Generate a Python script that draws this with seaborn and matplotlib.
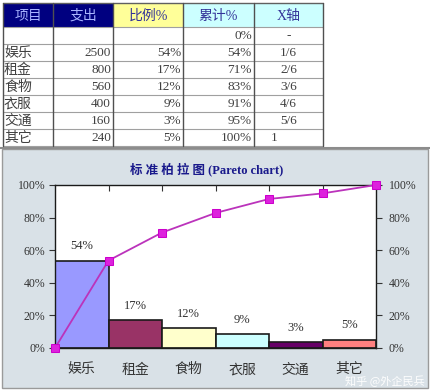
import numpy as np
import pandas as pd
import matplotlib
matplotlib.use("Agg")
import matplotlib.pyplot as plt
from matplotlib.patches import Rectangle
import seaborn as sns

# ---------------- data ----------------
categories = ["娱乐", "租金", "食物", "衣服", "交通", "其它"]
spending = [2500, 800, 560, 400, 160, 240]
x_axis_labels = ["1/6", "2/6", "3/6", "4/6", "5/6", "1"]
header = ["项目", "支出", "比例%", "累计%", "X轴"]
y_ticks = [0, 20, 40, 60, 80, 100]
bar_colors = ["#9999FF", "#993366", "#FFFFCC", "#CCFFFF", "#660066", "#FF8080"]
title = "标 准 柏 拉 图 (Pareto chart)"
watermark = "知乎 @外企民兵"

total = sum(spending)
ratio = [s / total * 100 for s in spending]
cum = list(np.cumsum(ratio))
cum_line = [0.0] + cum
x_frac = [i / len(categories) for i in range(len(categories) + 1)]
ratio_labels = [f"{round(r)}%" for r in ratio]
cum_labels = [f"{round(c)}%" for c in cum]

# ---------------- style ----------------
sns.set_style("white")
plt.rcParams["font.family"] = ["Liberation Serif", "Noto Sans CJK SC", "DejaVu Sans"]

W, H = 430, 392
fig = plt.figure(figsize=(W / 100, H / 100), dpi=100)
fig.patch.set_facecolor("white")

# background canvas in pixel coordinates
bg = fig.add_axes([0, 0, 1, 1], zorder=0)
bg.set_xlim(0, W)
bg.set_ylim(H, 0)
bg.axis("off")

# chart box
bg.add_patch(Rectangle((2, 149), 426, 239, facecolor="#D9E1E7", edgecolor="#9A9A9A", lw=1))
bg.plot([0, W], [148, 148], color="#8C8C8C", lw=1.5)

# ---------------- table ----------------
col_x = [3, 53, 113, 183, 254, 323]
row_y = [3, 27] + [27 + 17 * (i + 1) for i in range(7)]
head_fill = ["#000080", "#000080", "#FFFF99", "#CCFFFF", "#CCFFFF"]
head_txt = ["#A9B4FF", "#A9B4FF", "#333399", "#333399", "#333399"]
for j in range(5):
    bg.add_patch(Rectangle((col_x[j], row_y[0]), col_x[j + 1] - col_x[j], row_y[1] - row_y[0],
                           facecolor=head_fill[j], edgecolor="none"))
    bg.text((col_x[j] + col_x[j + 1]) / 2, (row_y[0] + row_y[1]) / 2 + 1, header[j],
            ha="center", va="center", fontsize=10, color=head_txt[j])

for y in row_y[1:]:
    bg.plot([col_x[0], col_x[-1]], [y, y], color="#A0A0A0", lw=0.8)
bg.plot([col_x[0], col_x[-1]], [row_y[0], row_y[0]], color="#606060", lw=1)
for x in col_x:
    bg.plot([x, x], [row_y[0], row_y[-1]], color="#505050", lw=1)

rows = [["", "", "", "0%", "-"]]
for i in range(len(categories)):
    rows.append([categories[i], str(spending[i]), ratio_labels[i], cum_labels[i], x_axis_labels[i]])

for r, row in enumerate(rows):
    yc = (row_y[r + 1] + row_y[r + 2]) / 2 + 0.5
    for j, val in enumerate(row):
        if val == "":
            continue
        if j == 0:
            bg.text(col_x[j] + 1, yc, val, ha="left", va="center", fontsize=10, color="#404040")
        elif j in (1, 2, 3):
            bg.text(col_x[j + 1] - 2, yc, val, ha="right", va="center", fontsize=9.5, color="#404040")
        else:
            if val == "1":
                bg.text(col_x[j] + 17, yc, val, ha="left", va="center", fontsize=9.5, color="#404040")
            else:
                bg.text((col_x[j] + col_x[j + 1]) / 2, yc, val, ha="center", va="center",
                        fontsize=9.5, color="#404040")

# title
bg.text(207, 169, title, ha="center", va="center", fontsize=9, fontweight="bold", color="#1A1A8C")

# ---------------- chart ----------------
L, R, T, B = 55, 376, 185, 348
pos = [L / W, 1 - B / H, (R - L) / W, (B - T) / H]
ax = fig.add_axes(pos, zorder=2)
ax.set_facecolor("white")

df = pd.DataFrame({"cat": categories, "ratio": ratio})
sns.barplot(data=df, x="cat", y="ratio", hue="cat", palette=bar_colors, legend=False,
            width=1.0, edgecolor="#1A1A1A", linewidth=1.2, saturation=1, ax=ax)
ax.set_xlim(-0.5, len(categories) - 0.5)
ax.set_ylim(0, 100)
ax.set_xlabel("")
ax.set_ylabel("")
ax.set_yticks(y_ticks)
ax.set_yticklabels([f"{v}%" for v in y_ticks])
ax.tick_params(axis="y", direction="out", length=4, width=0.8, pad=3, labelsize=8.5,
               labelcolor="#333333", color="#333333", left=True)
ax.tick_params(axis="x", length=0, pad=11, labelsize=10, labelcolor="#333333")
for s in ax.spines.values():
    s.set_visible(True)
    s.set_color("#1A1A1A")
    s.set_linewidth(1)

for i, r in enumerate(ratio):
    ax.annotate(ratio_labels[i], (i, r), xytext=(0, 6), textcoords="offset points",
                ha="center", va="bottom", fontsize=9, color="#333333")

# secondary axes for cumulative line
ax2 = fig.add_axes(pos, zorder=3)
ax2.set_facecolor("none")
sns.lineplot(x=x_frac, y=cum_line, ax=ax2, color="#BB33BB", lw=1.3, marker="s",
             markersize=6, markerfacecolor="#DD22DD", markeredgecolor="#CC00CC",
             clip_on=False, sort=False)
ax2.set_xlim(0, 1)
ax2.set_ylim(0, 100)
ax2.set_xlabel("")
ax2.set_ylabel("")
ax2.yaxis.tick_right()
ax2.set_yticks(y_ticks)
ax2.set_yticklabels([f"{v}%" for v in y_ticks])
ax2.tick_params(axis="y", direction="out", length=4, width=0.8, pad=5, labelsize=8.5,
                labelcolor="#333333", color="#333333", right=True, left=False)
ax2.xaxis.tick_top()
ax2.set_xticks(x_frac[1:-1])
ax2.set_xticklabels([])
ax2.tick_params(axis="x", direction="in", length=4, width=0.8, color="#333333", top=True, bottom=False)
for s in ax2.spines.values():
    s.set_visible(False)

# watermark (kept clear of the axis labels)
bg.text(425, 381, watermark, ha="right", va="center", fontsize=8, color="white",
        alpha=0.95, family=["Noto Sans CJK SC", "DejaVu Sans"], zorder=5)

fig.savefig("out.png", dpi=100)
